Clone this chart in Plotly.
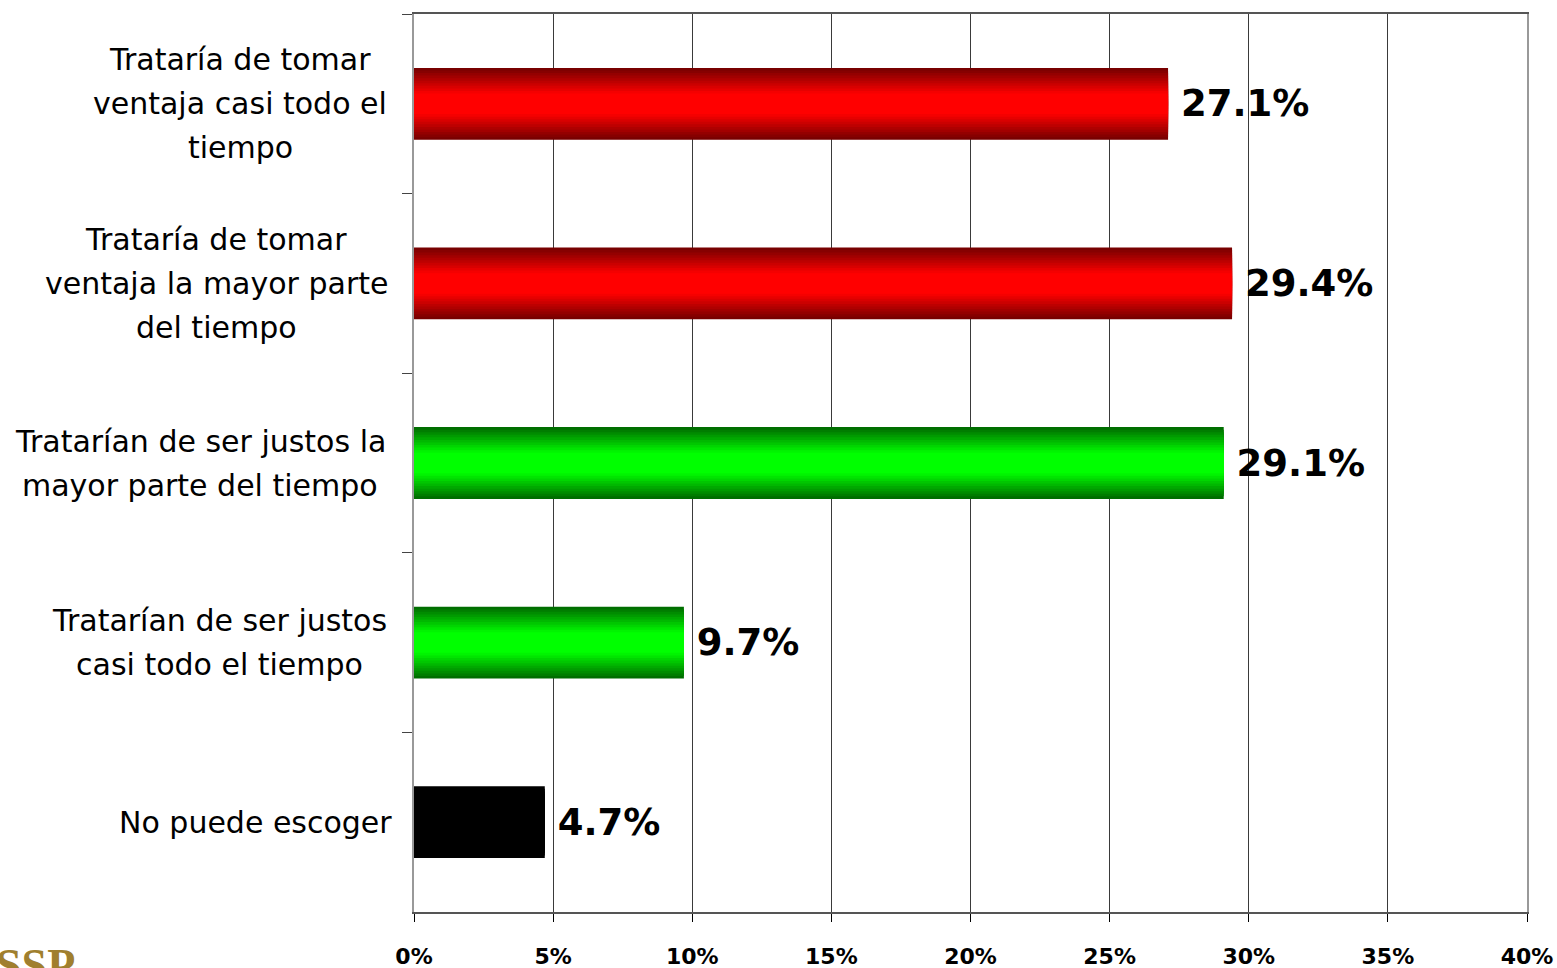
import plotly.graph_objects as go

categories = [
    "Trataría de tomar<br>ventaja casi todo el<br>tiempo",
    "Trataría de tomar<br>ventaja la mayor parte<br>del tiempo",
    "Tratarían de ser justos la<br>mayor parte del tiempo",
    "Tratarían de ser justos<br>casi todo el tiempo",
    "No puede escoger",
]
values = [27.1, 29.4, 29.1, 9.7, 4.7]
# edge (dark) and centre (bright) colours per bar
edge_colors = [(120, 0, 0), (120, 0, 0), (0, 110, 0), (0, 110, 0), (0, 0, 0)]
center_colors = [(255, 0, 0), (255, 0, 0), (0, 255, 0), (0, 255, 0), (0, 0, 0)]
tick_vals = [0, 5, 10, 15, 20, 25, 30, 35, 40]
tick_text = ["0%", "5%", "10%", "15%", "20%", "25%", "30%", "35%", "40%"]

W, H = 1557, 968
ML, MR, MT, MB = 414, 30, 14, 56
# horizontal centre of each category label block, in px from the plot's left edge
label_centers = [-174, -198, -214, -195, -159]

fig = go.Figure()

N = 14
BAR_W = 0.4
for k in range(N):
    t = k / (N - 1)
    frac = min(1.0, t / 0.75)
    cols = []
    for e, c in zip(edge_colors, center_colors):
        rgb = tuple(int(round(e[i] + (c[i] - e[i]) * frac)) for i in range(3))
        cols.append("rgb(%d,%d,%d)" % rgb)
    last = k == N - 1
    fig.add_trace(go.Bar(
        y=categories, x=values, orientation="h",
        width=BAR_W * (1 - k / N) if k > 0 else BAR_W,
        marker=dict(color=cols, line=dict(width=0)),
        text=[f" {v:.1f}%" for v in values] if last else None,
        textposition="outside" if last else "none",
        constraintext="none",
        textfont=dict(family="DejaVu Sans", size=37, color="black", weight="bold"),
        cliponaxis=False,
        hoverinfo="skip",
        showlegend=False,
    ))

# category labels as centred multi-line annotations
annotations = []
LINE_H = 44
for cat, cx in zip(categories, label_centers):
    lines = cat.split("<br>")
    n = len(lines)
    for i, ln in enumerate(lines):
        annotations.append(dict(
            x=0, xref="paper", y=cat, yref="y",
            text=ln, showarrow=False, xanchor="center", xshift=cx,
            yshift=((n - 1) / 2 - i) * LINE_H,
            align="center",
            font=dict(family="DejaVu Sans", size=30, color="black"),
        ))

annotations.append(dict(
    x=-ML / (W - ML - MR), xref="paper", y=0, yref="paper",
    xanchor="left", yanchor="top", yshift=-26, xshift=-6,
    text="<b>SSP</b>", showarrow=False,
    font=dict(family="Liberation Serif", size=46, color="#a07f2e"),
))

fig.update_layout(
    width=W, height=H,
    margin=dict(l=ML, r=MR, t=MT, b=MB, autoexpand=False),
    barmode="overlay",
    plot_bgcolor="white", paper_bgcolor="white",
    annotations=annotations,
    xaxis=dict(
        range=[0, 40], tickvals=tick_vals, ticktext=tick_text,
        automargin=False,
        showgrid=True, gridcolor="#3a3a3a", gridwidth=1,
        showline=True, linecolor="#555", linewidth=2, mirror=True,
        ticks="outside", ticklen=8, tickcolor="black",
        tickfont=dict(family="DejaVu Sans", size=22, color="black", weight="bold"),
        ticklabelstandoff=16,
        zeroline=False,
    ),
    yaxis=dict(
        autorange="reversed",
        automargin=False,
        showticklabels=False,
        showline=True, linecolor="#999", linewidth=2, mirror=True,
        ticks="outside", tickson="boundaries", ticklen=10, tickcolor="#444",
        showgrid=False,
    ),
    bargap=0.6,
)

fig.write_html(
    "out.html",
    config={"displayModeBar": False},
    post_script="document.body.style.margin='0';document.body.style.overflow='hidden';",
)
